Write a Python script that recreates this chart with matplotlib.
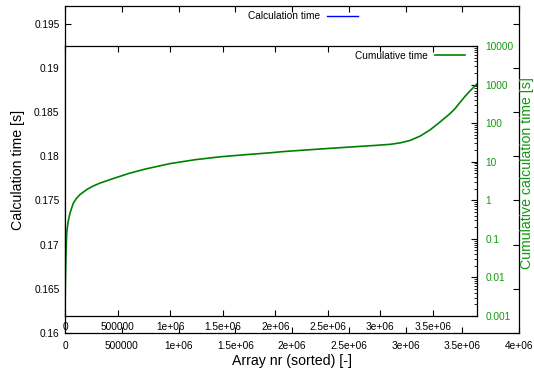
import matplotlib
matplotlib.use('Agg')
import matplotlib.pyplot as plt
from matplotlib.ticker import FixedLocator, FuncFormatter, LogLocator, NullFormatter

plt.rcParams['font.family'] = ['Liberation Sans', 'DejaVu Sans']

# ---- data ----
array_nr = [0, 3000, 8000, 16000, 28500, 48000, 79000, 110000, 143000, 206000,
            266000, 333000, 457000, 609000, 761000, 999000, 1237000, 1475000,
            1713000, 1950000, 2074000, 2300000, 2521000, 2740000, 2966000,
            3092000, 3187000, 3283000, 3378000, 3473000, 3568000, 3663000,
            3711000, 3758000, 3806000, 3853000, 3917000]
cum_time = [0.0012, 0.005, 0.03, 0.14, 0.27, 0.47, 0.84, 1.13, 1.41, 1.89,
            2.33, 2.79, 3.65, 4.98, 6.43, 8.93, 11.27, 13.4,
            15.2, 17.0, 18.3, 20.2, 22.2, 24.3, 26.6,
            28.2, 30.7, 35.6, 46.0, 66.7, 107, 176,
            238, 344, 494, 682, 1024]

outer_xticks = [0, 500000, 1000000, 1500000, 2000000, 2500000, 3000000, 3500000, 4000000]
outer_yticks = [0.16, 0.165, 0.17, 0.175, 0.18, 0.185, 0.19, 0.195]
inner_xticks = [0, 500000, 1000000, 1500000, 2000000, 2500000, 3000000, 3500000]
right_yticks = [0.001, 0.01, 0.1, 1, 10, 100, 1000, 10000]

GREEN_LINE = '#008000'
GREEN_TEXT = '#109a10'
FS_TICK = 7.3
FS_LABEL = 10.2

W, H = 534, 371
fig = plt.figure(figsize=(W / 100, H / 100), dpi=100)


def rect(l, t, r, b):
    return [l / W, 1 - b / H, (r - l) / W, (b - t) / H]


gfmt = FuncFormatter(lambda v, p: '%g' % v)

# ---- outer axes (Calculation time) ----
ax = fig.add_axes(rect(65, 6, 519, 333))
ax.set_xlim(0, 4000000)
ax.set_ylim(0.16, 0.197)
ax.xaxis.set_major_locator(FixedLocator(outer_xticks))
ax.yaxis.set_major_locator(FixedLocator(outer_yticks))
ax.xaxis.set_major_formatter(gfmt)
ax.yaxis.set_major_formatter(gfmt)
ax.tick_params(direction='in', length=4, width=0.8, top=True, right=True,
               labelsize=FS_TICK)
ax.tick_params(axis='x', pad=6)
ax.tick_params(axis='y', pad=4)
for s in ax.spines.values():
    s.set_linewidth(0.9)
ax.plot([], [], color='blue', lw=1.0, label='Calculation time')
ax.legend(loc='center right', bbox_to_anchor=(0.645, 0.969), frameon=False,
          markerfirst=False, handlelength=3.0, handletextpad=0.7, borderpad=0,
          borderaxespad=0, fontsize=FS_TICK)
ax.set_xlabel('Array nr (sorted) [-]', fontsize=FS_LABEL)
ax.xaxis.set_label_coords(0.5, (333 - 361) / 327)
ax.xaxis.label.set_va('center')
ax.set_ylabel('Calculation time [s]', fontsize=FS_LABEL)
ax.yaxis.set_label_coords((18 - 65) / 454, 0.5)
ax.yaxis.label.set_va('center')

# ---- inner axes (Cumulative time, log) ----
ax2 = fig.add_axes(rect(65, 46, 477, 316))
ax2.set_facecolor('white')
ax2.plot(array_nr, cum_time, color=GREEN_LINE, lw=1.2, label='Cumulative time')
ax2.set_xlim(0, 3920000)
ax2.set_yscale('log')
ax2.set_ylim(0.001, 10000)
ax2.xaxis.set_major_locator(FixedLocator(inner_xticks))
ax2.xaxis.set_major_formatter(gfmt)
ax2.yaxis.set_major_locator(FixedLocator(right_yticks))
ax2.yaxis.set_minor_locator(LogLocator(base=10, subs=[2, 3, 4, 5, 6, 7, 8, 9], numticks=20))
ax2.yaxis.set_major_formatter(gfmt)
ax2.yaxis.set_minor_formatter(NullFormatter())
ax2.yaxis.tick_right()
ax2.tick_params(axis='x', direction='in', length=4, width=0.8, top=True, bottom=True,
                labelsize=FS_TICK, pad=4)
ax2.tick_params(axis='y', which='major', direction='in', length=4, width=0.8,
                left=False, right=True, labelsize=FS_TICK, labelcolor=GREEN_TEXT, pad=6)
ax2.tick_params(axis='y', which='minor', direction='in', length=2, width=0.6,
                left=False, right=True)
for s in ax2.spines.values():
    s.set_linewidth(0.9)
ax2.legend(loc='center right', bbox_to_anchor=(0.971, 0.963), frameon=False,
           markerfirst=False, handlelength=3.0, handletextpad=0.7, borderpad=0,
           borderaxespad=0, fontsize=FS_TICK)
ax2.yaxis.set_label_position('right')
ax2.set_ylabel('Cumulative calculation time [s]', fontsize=FS_LABEL, color=GREEN_TEXT,
               rotation=90)
ax2.yaxis.set_label_coords((527 - 65) / 412, (316 - 173) / 270)
ax2.yaxis.label.set_va('center')
ax2.yaxis.label.set_ha('center')

fig.savefig('out.png', dpi=100)
